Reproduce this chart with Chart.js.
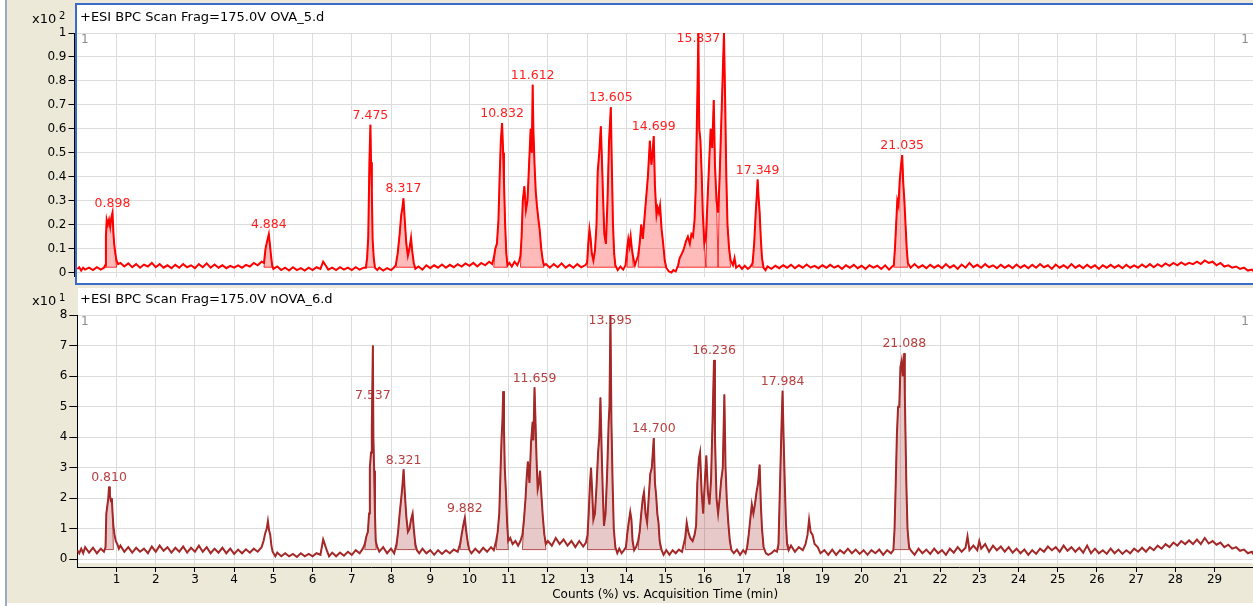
<!DOCTYPE html>
<html>
<head>
<meta charset="utf-8">
<title>BPC chromatograms</title>
<script src="https://cdn.jsdelivr.net/npm/chart.js@4.4.1/dist/chart.umd.min.js"></script>
<style>
  html, body { margin: 0; padding: 0; background: #fff; }
  #page { position: relative; width: 1253px; height: 606px; overflow: hidden; background: #fff; }
  .abs { position: absolute; }
  #edge { left: 5px; top: 0; width: 2px; height: 606px; background: #9AAAC8; }
  #beige { left: 7px; top: 0; width: 1246px; height: 603px; background: #ECE9D8; }
  #panelTop { left: 77px; top: 5px; width: 1176px; height: 278px; background: #fff; }
  #panelBottom { left: 78px; top: 288px; width: 1175px; height: 275px; background: #fff; }
  #frame { left: 75px; top: 3px; width: 1200px; height: 282px; border: 2px solid #3A6BC8; box-sizing: border-box; pointer-events: none; }
  canvas { position: absolute; left: 0; }
  #ova5Chart { top: 0; }
  #nova6Chart { top: 286px; }
</style>
</head>
<body>
<div id="page">
  <div id="edge" class="abs"></div>
  <div id="beige" class="abs"></div>
  <div id="panelTop" class="abs"></div>
  <div id="panelBottom" class="abs"></div>
  <canvas id="ova5Chart" width="1253" height="286"></canvas>
  <canvas id="nova6Chart" width="1253" height="320"></canvas>
  <div id="frame" class="abs"></div>
</div>
<script>
// Acquisition time grid (min)
const minuteTicks = [1, 2, 3, 4, 5, 6, 7, 8, 9, 10, 11, 12, 13, 14, 15, 16, 17, 18, 19, 20, 21, 22, 23, 24, 25, 26, 27, 28, 29];

// ---- OVA_5.d  (counts x10^2) ----
const ova5CountTicks = [0, 0.1, 0.2, 0.3, 0.4, 0.5, 0.6, 0.7, 0.8, 0.9, 1];
const ova5Trace = [
  [0.00,0.015],[0.05,0.022],[0.10,0.008],[0.15,0.020],[0.20,0.012],[0.30,0.020],[0.40,0.010],[0.50,0.022],[0.60,0.012],[0.68,0.020],
  [0.71,0.030],[0.73,0.150],[0.75,0.220],[0.78,0.200],[0.81,0.220],[0.84,0.190],[0.87,0.230],[0.898,0.250],[0.92,0.170],[0.94,0.120],[0.97,0.080],[1.00,0.050],[1.04,0.035],
  [1.10,0.040],[1.20,0.025],[1.30,0.038],[1.40,0.022],[1.50,0.035],[1.60,0.020],[1.70,0.033],[1.80,0.025],[1.90,0.040],[2.00,0.022],
  [2.10,0.035],[2.20,0.020],[2.30,0.030],[2.40,0.018],[2.50,0.032],[2.60,0.020],[2.70,0.035],[2.80,0.022],[2.90,0.030],[3.00,0.018],
  [3.10,0.035],[3.20,0.022],[3.30,0.038],[3.40,0.020],[3.50,0.033],[3.60,0.020],[3.70,0.030],[3.80,0.018],[3.90,0.028],[4.00,0.020],
  [4.10,0.030],[4.20,0.020],[4.30,0.032],[4.40,0.025],[4.50,0.040],[4.60,0.030],[4.70,0.045],
  [4.76,0.040],[4.80,0.100],[4.84,0.130],[4.884,0.160],[4.91,0.120],[4.94,0.070],[4.97,0.030],
  [5.00,0.015],[5.10,0.025],[5.20,0.010],[5.30,0.020],[5.40,0.008],[5.50,0.022],[5.60,0.010],[5.70,0.018],[5.80,0.008],[5.90,0.020],
  [6.00,0.010],[6.10,0.022],[6.20,0.015],[6.27,0.045],[6.33,0.030],[6.40,0.012],[6.50,0.020],[6.60,0.010],[6.70,0.022],[6.80,0.012],
  [6.90,0.020],[7.00,0.010],[7.10,0.022],[7.20,0.012],[7.30,0.020],
  [7.36,0.020],[7.39,0.060],[7.42,0.150],[7.45,0.470],[7.475,0.617],[7.49,0.460],[7.51,0.350],[7.53,0.140],[7.56,0.060],[7.59,0.020],
  [7.65,0.010],[7.70,0.020],[7.80,0.008],[7.90,0.018],[8.00,0.010],[8.07,0.020],
  [8.12,0.030],[8.17,0.080],[8.22,0.160],[8.26,0.240],[8.29,0.270],[8.317,0.310],[8.35,0.220],[8.39,0.120],[8.43,0.070],[8.47,0.100],
  [8.51,0.145],[8.54,0.090],[8.58,0.040],[8.62,0.015],
  [8.70,0.025],[8.80,0.012],[8.90,0.030],[9.00,0.018],[9.10,0.030],[9.20,0.020],[9.30,0.033],[9.40,0.020],[9.50,0.032],[9.60,0.022],
  [9.70,0.035],[9.80,0.025],[9.90,0.038],[10.00,0.028],[10.10,0.040],[10.20,0.025],[10.30,0.040],[10.40,0.030],[10.50,0.045],[10.58,0.035],
  [10.62,0.060],[10.66,0.100],[10.70,0.120],[10.74,0.220],[10.77,0.400],[10.80,0.550],[10.832,0.624],[10.86,0.500],[10.88,0.380],
  [10.91,0.200],[10.94,0.080],[10.97,0.030],
  [11.02,0.040],[11.08,0.025],[11.15,0.045],[11.22,0.030],[11.27,0.050],
  [11.30,0.070],[11.33,0.150],[11.36,0.300],[11.40,0.360],[11.44,0.260],[11.48,0.300],[11.52,0.450],[11.56,0.600],[11.59,0.500],
  [11.612,0.784],[11.63,0.600],[11.66,0.450],[11.69,0.340],[11.72,0.280],[11.76,0.220],[11.79,0.180],[11.83,0.100],[11.87,0.050],[11.90,0.030],
  [11.95,0.035],[12.05,0.020],[12.15,0.035],[12.25,0.022],[12.35,0.038],[12.45,0.020],[12.55,0.032],[12.65,0.020],[12.75,0.035],[12.85,0.022],[12.95,0.030],
  [13.00,0.040],[13.03,0.120],[13.06,0.180],[13.09,0.140],[13.12,0.080],[13.16,0.050],[13.20,0.090],[13.24,0.200],[13.27,0.420],[13.31,0.500],
  [13.35,0.610],[13.38,0.460],[13.41,0.300],[13.44,0.160],[13.48,0.120],[13.52,0.300],[13.56,0.550],[13.605,0.690],[13.63,0.450],[13.66,0.200],
  [13.69,0.080],[13.72,0.030],
  [13.78,0.010],[13.85,0.025],[13.92,0.012],[13.98,0.030],
  [14.02,0.100],[14.05,0.140],[14.08,0.110],[14.11,0.150],[14.14,0.100],[14.18,0.060],[14.22,0.030],[14.26,0.050],
  [14.30,0.070],[14.34,0.120],[14.38,0.200],[14.42,0.140],[14.46,0.220],[14.50,0.300],[14.55,0.400],[14.60,0.550],[14.64,0.450],[14.67,0.500],
  [14.699,0.570],[14.73,0.360],[14.77,0.240],[14.80,0.270],[14.83,0.250],[14.86,0.280],[14.90,0.180],[14.94,0.120],[14.98,0.050],[15.02,0.020],
  [15.08,0.005],[15.15,0.000],[15.20,0.010],[15.26,0.005],
  [15.32,0.030],[15.36,0.060],[15.42,0.080],[15.47,0.100],[15.52,0.130],[15.57,0.150],[15.62,0.120],[15.66,0.160],[15.70,0.150],[15.74,0.220],
  [15.77,0.350],[15.80,0.630],[15.82,0.820],[15.837,1.000],[15.86,0.600],[15.89,0.550],[15.92,0.420],[15.95,0.250],[15.99,0.120],[16.03,0.150],
  [16.07,0.300],[16.11,0.450],[16.15,0.600],[16.19,0.520],[16.23,0.720],[16.26,0.450],[16.30,0.300],[16.34,0.250],[16.38,0.400],[16.42,0.620],
  [16.45,0.780],[16.49,1.000],[16.52,0.720],[16.55,0.400],[16.58,0.200],[16.62,0.100],[16.66,0.050],
  [16.72,0.030],[16.76,0.060],[16.80,0.020],[16.88,0.030],[16.95,0.015],[17.02,0.028],[17.10,0.015],[17.17,0.025],
  [17.22,0.040],[17.26,0.120],[17.30,0.250],[17.33,0.330],[17.349,0.388],[17.37,0.320],[17.40,0.250],[17.43,0.140],[17.46,0.060],[17.50,0.020],
  [17.55,0.010],[17.60,0.025],[17.70,0.015],[17.80,0.028],[17.90,0.018],[18.00,0.030],[18.10,0.020],[18.20,0.032],[18.30,0.018],[18.40,0.030],
  [18.50,0.020],[18.60,0.033],[18.70,0.020],[18.80,0.028],[18.90,0.018],[19.00,0.030],[19.10,0.020],[19.20,0.032],[19.30,0.020],[19.40,0.028],
  [19.50,0.015],[19.60,0.030],[19.70,0.020],[19.80,0.032],[19.90,0.018],[20.00,0.028],[20.10,0.015],[20.20,0.030],[20.30,0.020],[20.40,0.028],
  [20.50,0.015],[20.60,0.030],[20.70,0.012],[20.78,0.025],
  [20.82,0.030],[20.85,0.100],[20.88,0.200],[20.91,0.300],[20.94,0.280],[20.97,0.380],[21.00,0.440],[21.035,0.490],[21.06,0.380],[21.09,0.300],
  [21.12,0.200],[21.15,0.100],[21.18,0.040],
  [21.25,0.020],[21.35,0.035],[21.45,0.020],[21.55,0.030],[21.65,0.018],[21.75,0.032],[21.85,0.020],[21.95,0.030],[22.05,0.018],[22.15,0.035],
  [22.25,0.020],[22.35,0.030],[22.45,0.015],[22.55,0.033],[22.65,0.020],[22.75,0.040],[22.85,0.022],[22.95,0.032],[23.05,0.020],[23.15,0.035],
  [23.25,0.022],[23.35,0.030],[23.45,0.018],[23.55,0.032],[23.65,0.020],[23.75,0.030],[23.85,0.018],[23.95,0.033],[24.05,0.020],[24.15,0.030],
  [24.25,0.018],[24.35,0.032],[24.45,0.020],[24.55,0.035],[24.65,0.022],[24.75,0.030],[24.85,0.015],[24.95,0.033],[25.05,0.020],[25.15,0.030],
  [25.25,0.018],[25.35,0.035],[25.45,0.020],[25.55,0.030],[25.65,0.018],[25.75,0.032],[25.85,0.020],[25.95,0.030],[26.05,0.015],[26.15,0.030],
  [26.25,0.020],[26.35,0.032],[26.45,0.020],[26.55,0.030],[26.65,0.018],[26.75,0.032],[26.85,0.020],[26.95,0.030],[27.05,0.020],[27.15,0.033],
  [27.25,0.022],[27.35,0.035],[27.45,0.022],[27.55,0.035],[27.65,0.025],[27.75,0.038],[27.85,0.028],[27.95,0.040],[28.05,0.030],[28.15,0.042],
  [28.25,0.032],[28.35,0.040],[28.45,0.035],[28.55,0.045],[28.65,0.035],[28.75,0.050],[28.85,0.040],[28.95,0.045],[29.05,0.030],[29.15,0.040],
  [29.25,0.025],[29.35,0.030],[29.45,0.020],[29.55,0.025],[29.65,0.015],[29.75,0.020],[29.85,0.008],[29.95,0.012],[30.00,0.005]
];
// integrated peaks [start, end] and their baseline level
const ova5PeakWindows = [[0.71,1.00],[4.76,4.97],[7.36,7.59],[8.12,8.62],[10.62,10.97],[11.30,11.90],[13.00,13.72],[14.02,14.18],
  [14.30,15.02],[15.32,16.03],[16.03,16.34],[16.34,16.66],[17.22,17.50],[20.82,21.18]];
const ova5Base = 0.022;
// labelled retention times and the apex heights they sit over
const ova5LabelTimes = [0.898, 4.884, 7.475, 8.317, 10.832, 11.612, 13.605, 14.699, 15.837, 17.349, 21.035];
const ova5LabelApex = [0.25, 0.16, 0.617, 0.31, 0.624, 0.784, 0.69, 0.57, 1.0, 0.388, 0.49];

// ---- nOVA_6.d  (counts x10^1) ----
const nova6CountTicks = [0, 1, 2, 3, 4, 5, 6, 7, 8];
const nova6Trace = [
  [0.00,0.30],[0.05,0.20],[0.10,0.35],[0.15,0.20],[0.20,0.40],[0.30,0.22],[0.40,0.38],[0.50,0.20],[0.60,0.35],[0.68,0.25],
  [0.72,0.40],[0.74,1.50],[0.77,1.80],[0.79,2.00],[0.81,2.38],[0.83,2.10],[0.86,1.90],[0.88,2.00],[0.90,1.50],[0.92,1.10],[0.95,0.80],
  [0.98,0.60],[1.02,0.50],[1.06,0.35],
  [1.10,0.45],[1.20,0.25],[1.30,0.40],[1.40,0.22],[1.50,0.38],[1.60,0.25],[1.70,0.35],[1.80,0.20],[1.90,0.42],[2.00,0.25],
  [2.10,0.45],[2.20,0.28],[2.30,0.40],[2.40,0.22],[2.50,0.38],[2.60,0.25],[2.70,0.42],[2.80,0.22],[2.90,0.38],[3.00,0.25],
  [3.10,0.45],[3.20,0.25],[3.30,0.40],[3.40,0.20],[3.50,0.35],[3.60,0.22],[3.70,0.38],[3.80,0.20],[3.90,0.35],[4.00,0.18],
  [4.10,0.32],[4.20,0.20],[4.30,0.33],[4.40,0.22],[4.50,0.35],[4.60,0.25],[4.70,0.40],
  [4.75,0.60],[4.79,0.85],[4.83,1.00],[4.86,1.25],[4.89,0.95],[4.92,0.80],[4.95,0.45],[4.98,0.25],
  [5.05,0.10],[5.10,0.22],[5.20,0.10],[5.30,0.20],[5.40,0.10],[5.50,0.18],[5.60,0.08],[5.70,0.20],[5.80,0.10],[5.90,0.18],
  [6.00,0.10],[6.10,0.20],[6.20,0.15],[6.27,0.65],[6.31,0.50],[6.36,0.30],[6.42,0.10],[6.50,0.22],[6.60,0.10],[6.70,0.22],
  [6.80,0.12],[6.90,0.25],[7.00,0.15],[7.10,0.30],[7.20,0.20],[7.28,0.35],
  [7.33,0.50],[7.37,0.75],[7.41,0.90],[7.44,1.50],[7.46,3.00],[7.49,3.50],[7.51,4.30],[7.537,7.00],[7.55,4.00],[7.57,2.90],
  [7.59,1.50],[7.61,0.60],[7.65,0.40],
  [7.70,0.25],[7.80,0.40],[7.90,0.20],[8.00,0.35],[8.08,0.20],
  [8.14,0.50],[8.18,0.90],[8.22,1.50],[8.26,2.00],[8.29,2.40],[8.321,2.95],[8.35,2.20],[8.39,1.40],[8.43,0.90],[8.47,1.00],
  [8.51,1.30],[8.55,1.50],[8.58,1.00],[8.62,0.50],[8.66,0.30],
  [8.72,0.20],[8.80,0.35],[8.90,0.20],[9.00,0.30],[9.10,0.15],[9.20,0.30],[9.30,0.18],[9.40,0.30],[9.50,0.20],[9.60,0.32],[9.70,0.25],
  [9.76,0.50],[9.80,0.80],[9.84,1.10],[9.882,1.36],[9.91,1.00],[9.94,0.70],[9.97,0.45],[10.00,0.30],
  [10.05,0.20],[10.15,0.35],[10.25,0.22],[10.35,0.38],[10.45,0.25],[10.55,0.40],[10.62,0.30],
  [10.68,0.60],[10.72,0.90],[10.76,1.50],[10.79,2.80],[10.82,4.00],[10.84,4.50],[10.86,5.50],[10.88,4.30],[10.90,3.00],[10.93,2.20],
  [10.96,1.20],[10.99,0.60],
  [11.04,0.70],[11.10,0.50],[11.17,0.60],[11.24,0.45],[11.30,0.60],
  [11.35,0.80],[11.39,1.30],[11.43,2.00],[11.46,2.70],[11.49,3.20],[11.53,2.50],[11.57,3.80],[11.61,4.50],[11.63,3.90],[11.659,5.63],
  [11.68,4.70],[11.71,3.30],[11.74,2.30],[11.77,2.50],[11.80,2.90],[11.83,2.20],[11.87,1.40],[11.91,0.80],[11.95,0.50],
  [12.00,0.60],[12.10,0.45],[12.20,0.70],[12.30,0.50],[12.40,0.65],[12.50,0.45],[12.60,0.60],[12.70,0.40],[12.80,0.60],[12.90,0.42],[12.97,0.55],
  [13.01,0.80],[13.04,1.50],[13.07,2.40],[13.10,3.00],[13.13,2.20],[13.16,1.30],[13.20,1.50],[13.24,2.40],[13.28,3.50],[13.31,4.00],
  [13.34,5.30],[13.37,3.60],[13.40,2.20],[13.43,1.10],[13.47,1.50],[13.51,2.80],[13.55,4.50],[13.57,5.00],[13.595,8.00],[13.62,4.50],
  [13.65,2.50],[13.68,1.00],[13.72,0.40],
  [13.77,0.20],[13.82,0.35],[13.88,0.20],[13.94,0.30],
  [13.99,0.40],[14.02,0.80],[14.06,1.20],[14.10,1.55],[14.13,1.30],[14.16,0.60],[14.20,0.30],[14.25,0.40],
  [14.30,0.60],[14.34,0.90],[14.38,1.50],[14.42,2.00],[14.45,2.20],[14.49,1.50],[14.53,1.20],[14.57,2.00],[14.61,2.80],[14.65,3.00],
  [14.70,3.97],[14.73,2.50],[14.76,2.10],[14.79,1.50],[14.82,1.20],[14.85,0.60],[14.90,0.30],
  [14.95,0.15],[15.02,0.30],[15.10,0.15],[15.18,0.30],[15.26,0.20],[15.34,0.32],[15.42,0.25],
  [15.50,0.70],[15.54,1.20],[15.58,0.90],[15.63,0.70],[15.69,0.60],[15.74,0.80],[15.78,1.10],[15.81,2.50],[15.85,3.30],[15.88,3.50],
  [15.92,2.20],[15.96,1.50],[16.00,2.50],[16.04,3.40],[16.08,2.20],[16.12,1.80],[16.16,2.60],[16.20,4.60],[16.236,6.53],[16.26,4.00],
  [16.30,2.00],[16.34,1.50],[16.38,2.00],[16.42,2.60],[16.46,3.00],[16.50,5.40],[16.53,3.00],[16.56,2.00],[16.60,1.20],[16.64,0.60],[16.68,0.30],
  [16.74,0.20],[16.82,0.32],[16.90,0.15],[16.98,0.30],[17.04,0.20],
  [17.08,0.40],[17.12,0.80],[17.16,1.30],[17.20,1.80],[17.24,1.50],[17.28,1.80],[17.32,2.20],[17.36,2.50],[17.40,3.10],[17.43,1.80],
  [17.46,1.00],[17.50,0.40],
  [17.56,0.20],[17.62,0.15],[17.70,0.20],[17.78,0.30],[17.84,0.25],
  [17.88,0.50],[17.91,2.00],[17.94,3.50],[17.96,4.50],[17.984,5.52],[18.01,4.00],[18.04,2.50],[18.07,1.20],[18.10,0.50],[18.14,0.30],
  [18.20,0.45],[18.30,0.25],[18.40,0.40],[18.50,0.30],
  [18.57,0.50],[18.62,0.80],[18.66,1.30],[18.70,0.90],[18.75,0.80],[18.80,0.50],[18.88,0.40],[18.95,0.20],
  [19.05,0.30],[19.15,0.15],[19.25,0.32],[19.35,0.15],[19.45,0.30],[19.55,0.20],[19.65,0.35],[19.75,0.20],[19.85,0.32],[19.95,0.18],
  [20.05,0.30],[20.15,0.15],[20.25,0.30],[20.35,0.20],[20.45,0.32],[20.55,0.15],[20.65,0.30],[20.75,0.20],
  [20.81,0.30],[20.84,1.00],[20.87,2.50],[20.90,4.10],[20.93,5.00],[20.96,5.00],[20.99,6.30],[21.02,6.50],[21.05,6.00],[21.088,6.75],
  [21.10,5.50],[21.12,4.00],[21.14,2.50],[21.17,1.00],[21.21,0.40],
  [21.25,0.30],[21.35,0.15],[21.45,0.35],[21.55,0.20],[21.65,0.32],[21.75,0.18],[21.85,0.35],[21.95,0.20],[22.05,0.30],[22.15,0.15],
  [22.25,0.35],[22.35,0.22],[22.45,0.40],[22.55,0.25],[22.65,0.38],[22.70,0.75],[22.75,0.30],[22.85,0.45],[22.95,0.30],[23.00,0.60],
  [23.05,0.35],[23.15,0.50],[23.25,0.25],[23.35,0.45],[23.45,0.30],[23.55,0.42],[23.65,0.25],[23.75,0.40],[23.85,0.22],[23.95,0.35],
  [24.05,0.20],[24.15,0.32],[24.25,0.15],[24.35,0.30],[24.45,0.18],[24.55,0.35],[24.65,0.25],[24.75,0.42],[24.85,0.30],[24.95,0.40],
  [25.05,0.25],[25.15,0.45],[25.25,0.28],[25.35,0.40],[25.45,0.25],[25.55,0.38],[25.65,0.22],[25.75,0.45],[25.85,0.20],[25.95,0.35],
  [26.05,0.20],[26.15,0.30],[26.25,0.18],[26.35,0.35],[26.45,0.20],[26.55,0.32],[26.65,0.18],[26.75,0.30],[26.85,0.20],[26.95,0.35],
  [27.05,0.25],[27.15,0.38],[27.25,0.25],[27.35,0.40],[27.45,0.30],[27.55,0.45],[27.65,0.35],[27.75,0.50],[27.85,0.40],[27.95,0.55],
  [28.05,0.45],[28.15,0.60],[28.25,0.50],[28.35,0.62],[28.45,0.50],[28.55,0.65],[28.65,0.50],[28.75,0.70],[28.85,0.52],[28.95,0.60],
  [29.05,0.48],[29.15,0.55],[29.25,0.40],[29.35,0.48],[29.45,0.35],[29.55,0.40],[29.65,0.28],[29.75,0.32],[29.85,0.20],[29.95,0.25],[30.00,0.15]
];
const nova6PeakWindows = [[0.72,0.92],[7.33,7.62],[8.14,8.62],[9.76,10.00],[10.68,10.99],[11.35,11.95],[13.01,13.72],[13.99,14.20],
  [14.30,14.87],[15.50,16.68],[17.08,17.50],[17.88,18.12],[20.81,21.21]];
const nova6Base = 0.32;
const nova6LabelTimes = [0.810, 7.537, 8.321, 9.882, 11.659, 13.595, 14.700, 16.236, 17.984, 21.088];
const nova6LabelApex = [2.38, 5.05, 2.95, 1.36, 5.63, 8.0, 3.97, 6.53, 5.52, 6.75];

Chart.defaults.font.family = "'DejaVu Sans', sans-serif";
Chart.defaults.color = "#000";
const gridColor = "#DCDCDC";

function toPoints(pairs) {
  return pairs.map(p => ({ x: p[0], y: p[1] }));
}

// trace pieces inside each integration window, closed down to the baseline
function peakFill(pairs, windows, base) {
  const out = [];
  windows.forEach(([a, b]) => {
    out.push({ x: a, y: base });
    pairs.forEach(([t, v]) => { if (t > a && t < b) out.push({ x: t, y: v }); });
    out.push({ x: b, y: base });
    out.push({ x: b, y: null });
  });
  return out;
}

function peakBaselines(windows, base) {
  const out = [];
  windows.forEach(([a, b]) => {
    out.push({ x: a, y: base }, { x: b, y: base }, { x: b, y: null });
  });
  return out;
}

// header, trace index and retention time labels
const panelText = {
  id: "panelText",
  beforeDatasetsDraw(chart, args, opts) {
    const { ctx, chartArea, scales } = chart;
    ctx.save();
    ctx.textBaseline = "middle";
    ctx.fillStyle = "#000";
    ctx.textAlign = "left";
    ctx.font = "13px 'DejaVu Sans'";
    ctx.fillText(opts.title, 80, opts.headerY);
    ctx.fillText("x10", 32, opts.headerY + 2);
    ctx.font = "10px 'DejaVu Sans'";
    ctx.fillText(opts.exponent, 59, opts.headerY - 2);

    ctx.fillStyle = "#8C8C8C";
    ctx.font = "12px 'DejaVu Sans'";
    ctx.fillText("1", 81, chartArea.top + 7);
    ctx.textAlign = "right";
    ctx.fillText("1", 1249, chartArea.top + 7);

    ctx.fillStyle = opts.labelColor;
    ctx.font = "12.5px 'DejaVu Sans'";
    ctx.textAlign = "center";
    opts.times.forEach((t, i) => {
      const x = scales.x.getPixelForValue(t);
      const y = Math.max(scales.y.getPixelForValue(opts.apex[i]) - 9, chartArea.top + 6);
      ctx.fillText(t.toFixed(3), x, y);
    });
    ctx.restore();
  }
};

function traceDatasets(trace, windows, base, line, area) {
  return [
    { data: toPoints(trace), borderColor: line, borderWidth: 2, pointRadius: 0, fill: false },
    { data: peakFill(trace, windows, base), borderColor: line, borderWidth: 0.8, backgroundColor: area,
      pointRadius: 0, fill: { value: base } },
    { data: peakBaselines(windows, base), borderColor: line, borderWidth: 0.8, pointRadius: 0, fill: false }
  ];
}

new Chart(document.getElementById("ova5Chart"), {
  type: "line",
  data: { datasets: traceDatasets(ova5Trace, ova5PeakWindows, ova5Base, "#FF0000", "rgba(255,0,0,0.27)") },
  options: {
    responsive: false,
    animation: false,
    devicePixelRatio: 1,
    events: [],
    layout: { padding: { top: 33, bottom: 4, left: 0, right: 0 } },
    plugins: {
      legend: { display: false },
      tooltip: { enabled: false },
      panelText: {
        title: "+ESI BPC Scan Frag=175.0V OVA_5.d", exponent: "2", headerY: 18,
        times: ova5LabelTimes, apex: ova5LabelApex, labelColor: "#FF2020"
      }
    },
    scales: {
      x: {
        type: "linear", min: -0.071, max: 29.98,
        afterBuildTicks: s => { s.ticks = minuteTicks.map(v => ({ value: v })); },
        afterFit: s => { s.height = 0; },
        ticks: { display: false },
        grid: { color: gridColor, drawTicks: false },
        border: { display: false }
      },
      y: {
        min: -0.018, max: 1,
        afterBuildTicks: s => { s.ticks = ova5CountTicks.map(v => ({ value: v })); },
        afterFit: s => { s.width = 74.5; },
        ticks: { font: { size: 12 }, color: "#000", padding: 2, callback: v => String(+v.toFixed(1)) },
        grid: { color: gridColor, tickColor: "#000", tickLength: 6 },
        border: { color: "#000" }
      }
    }
  },
  plugins: [panelText]
});

new Chart(document.getElementById("nova6Chart"), {
  type: "line",
  data: { datasets: traceDatasets(nova6Trace, nova6PeakWindows, nova6Base, "#A52828", "rgba(165,40,40,0.25)") },
  options: {
    responsive: false,
    animation: false,
    devicePixelRatio: 1,
    events: [],
    layout: { padding: { top: 29, bottom: 0, left: 0, right: 0 } },
    plugins: {
      legend: { display: false },
      tooltip: { enabled: false },
      panelText: {
        title: "+ESI BPC Scan Frag=175.0V nOVA_6.d", exponent: "1", headerY: 14,
        times: nova6LabelTimes, apex: nova6LabelApex, labelColor: "#B84040"
      }
    },
    scales: {
      x: {
        type: "linear", min: 0, max: 29.98,
        afterBuildTicks: s => { s.ticks = minuteTicks.map(v => ({ value: v })); },
        afterFit: s => { s.height = 39; },
        ticks: { font: { size: 12 }, color: "#000", padding: 1, autoSkip: false, maxRotation: 0, callback: v => String(v) },
        grid: { color: gridColor, tickColor: "#000", tickLength: 5 },
        border: { color: "#000" },
        title: {
          display: true, text: "Counts (%) vs. Acquisition Time (min)",
          font: { size: 12 }, color: "#000", padding: { top: 0, bottom: 4 }
        }
      },
      y: {
        min: -0.25, max: 8,
        afterBuildTicks: s => { s.ticks = nova6CountTicks.map(v => ({ value: v })); },
        afterFit: s => { s.width = 77.3; },
        ticks: { font: { size: 12 }, color: "#000", padding: 2, callback: v => String(v) },
        grid: { color: gridColor, tickColor: "#000", tickLength: 8 },
        border: { color: "#000" }
      }
    }
  },
  plugins: [panelText]
});
</script>
</body>
</html>
